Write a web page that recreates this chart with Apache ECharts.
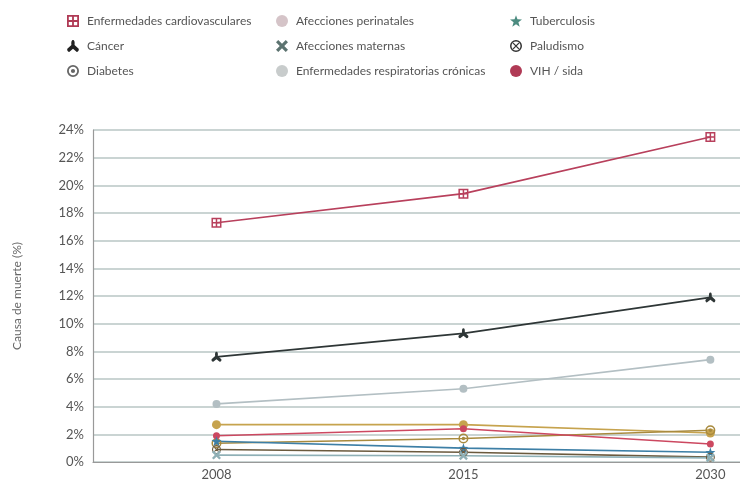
<!DOCTYPE html>
<html>
<head>
<meta charset="utf-8">
<script src="https://cdn.jsdelivr.net/npm/echarts@6/dist/echarts.min.js"></script>
<style>
  html, body { margin: 0; padding: 0; background: #fff; }
  #chart { width: 740px; height: 482px; }
</style>
</head>
<body>
<div id="chart"></div>
<script>
var years = ['2008', '2015', '2030'];
var yTicks = { min: 0, max: 24, interval: 2 };

var cardio = [17.3, 19.4, 23.5];
var cancer = [7.6, 9.3, 11.9];
var diabetes = [1.35, 1.7, 2.3];
var perinatales = [2.7, 2.7, 2.1];
var maternas = [0.5, 0.45, 0.3];
var respiratorias = [4.2, 5.3, 7.4];
var tuberculosis = [1.5, 1.0, 0.7];
var paludismo = [0.9, 0.7, 0.35];
var vih = [1.9, 2.4, 1.3];

// symbols
var symSquareGrid = 'path://M0,0H20V20H0Z M3,3V8.5H8.5V3Z M11.5,3V8.5H17V3Z M3,11.5V17H8.5V11.5Z M11.5,11.5V17H17V11.5Z';
var symTri = 'path://M10,0 C12.5,0 13,4 12.5,8 L19,14 C20,16 18,19.5 16,19 L10,14 L4,19 C2,19.5 0,16 1,14 L7.5,8 C7,4 7.5,0 10,0 Z';
var symRingDot = 'path://M10,0 A10,10 0 1,1 10,20 A10,10 0 1,1 10,0 Z M10,3 A7,7 0 1,0 10,17 A7,7 0 1,0 10,3 Z M10,6.5 A3.5,3.5 0 1,1 10,13.5 A3.5,3.5 0 1,1 10,6.5 Z';
var symRingX = 'path://M10,0 A10,10 0 1,1 10,20 A10,10 0 1,1 10,0 Z M10,2.5 A7.5,7.5 0 1,0 10,17.5 A7.5,7.5 0 1,0 10,2.5 Z M4.5,6 L6,4.5 L15.5,14 L14,15.5 Z M14,4.5 L15.5,6 L6,15.5 L4.5,14 Z';
var symX = 'path://M2,5 L5,2 L10,7 L15,2 L18,5 L13,10 L18,15 L15,18 L10,13 L5,18 L2,15 L7,10 Z';
var symStar = 'path://M10,0 L12.4,7 L20,7.3 L14,12 L16.2,19.5 L10,15 L3.8,19.5 L6,12 L0,7.3 L7.6,7 Z';

function pts(arr) {
  return arr.map(function (v, i) { return [i, v]; });
}

function line(name, data, color, symbol, size) {
  return {
    name: name,
    type: 'line',
    data: pts(data),
    symbol: symbol,
    symbolSize: size,
    showAllSymbol: true,
    lineStyle: { width: 1.6, color: color },
    itemStyle: { color: color },
    emphasis: { disabled: true },
    z: 3
  };
}

var legendText = { fontFamily: 'Lato', fontSize: 12, color: '#555', padding: [0, 0, 0, 3] };

function legendCol(left, items) {
  return {
    orient: 'vertical',
    left: left,
    top: 10,
    itemWidth: 12,
    itemHeight: 12,
    itemGap: 13,
    textStyle: legendText,
    selectedMode: false,
    data: items
  };
}

var option = {
  animation: false,
  backgroundColor: '#fff',
  legend: [
    legendCol(62, [
      { name: 'Enfermedades cardiovasculares', icon: symSquareGrid, itemStyle: { color: '#b03a55' } },
      { name: 'Cáncer', icon: symTri, itemStyle: { color: '#222' } },
      { name: 'Diabetes', icon: symRingDot, itemStyle: { color: '#666' } }
    ]),
    legendCol(271, [
      { name: 'Afecciones perinatales', icon: 'circle', itemStyle: { color: '#d5c4c8' } },
      { name: 'Afecciones maternas', icon: symX, itemStyle: { color: '#5c7370' } },
      { name: 'Enfermedades respiratorias crónicas', icon: 'circle', itemStyle: { color: '#c8cccc' } }
    ]),
    legendCol(505, [
      { name: 'Tuberculosis', icon: symStar, itemStyle: { color: '#4c8c80' } },
      { name: 'Paludismo', icon: symRingX, itemStyle: { color: '#333' } },
      { name: 'VIH / sida', icon: 'circle', itemStyle: { color: '#b03a55' } }
    ])
  ],
  grid: { left: 93, right: 0, top: 130, bottom: 20, containLabel: false },
  xAxis: {
    type: 'value',
    min: -0.5,
    max: 2.12,
    interval: 0.5,
    axisLine: { show: true, onZero: false, lineStyle: { color: '#999', width: 1.2 } },
    axisTick: { show: false },
    splitLine: { show: false },
    axisLabel: {
      fontFamily: 'Lato',
      fontSize: 13,
      color: '#555',
      margin: 6,
      showMaxLabel: false,
      formatter: function (v) {
        return (Math.abs(v - Math.round(v)) < 1e-6 && years[Math.round(v)]) ? years[Math.round(v)] : '';
      }
    }
  },
  yAxis: {
    type: 'value',
    min: yTicks.min,
    max: yTicks.max,
    interval: yTicks.interval,
    name: 'Causa de muerte (%)',
    nameLocation: 'middle',
    nameGap: 70,
    nameTextStyle: { fontFamily: 'Lato', fontSize: 12, color: '#666' },
    axisLine: { show: true, onZero: false, lineStyle: { color: '#999', width: 1.2 } },
    axisTick: { show: false },
    axisLabel: { fontFamily: 'Lato', fontSize: 13, color: '#555', margin: 9, formatter: '{value}%' },
    splitLine: { show: true, lineStyle: { color: '#b9c6c4', width: 1.5 } }
  },
  series: [
    line('Enfermedades cardiovasculares', cardio, '#b8405c', symSquareGrid, 10),
    line('Cáncer', cancer, '#2e3636', symTri, 10),
    line('Enfermedades respiratorias crónicas', respiratorias, '#b3bfc3', 'circle', 8),
    line('Afecciones perinatales', perinatales, '#c6a34e', 'circle', 9),
    line('Diabetes', diabetes, '#a88a3e', symRingDot, 10),
    line('VIH / sida', vih, '#cc4860', 'circle', 7),
    line('Tuberculosis', tuberculosis, '#3d7fa6', symStar, 10),
    line('Paludismo', paludismo, '#6b5a3e', symRingX, 9),
    line('Afecciones maternas', maternas, '#8fb0b6', symX, 9)
  ]
};

var chart = echarts.init(document.getElementById('chart'), null, { renderer: 'canvas' });
chart.setOption(option);
</script>
</body>
</html>
